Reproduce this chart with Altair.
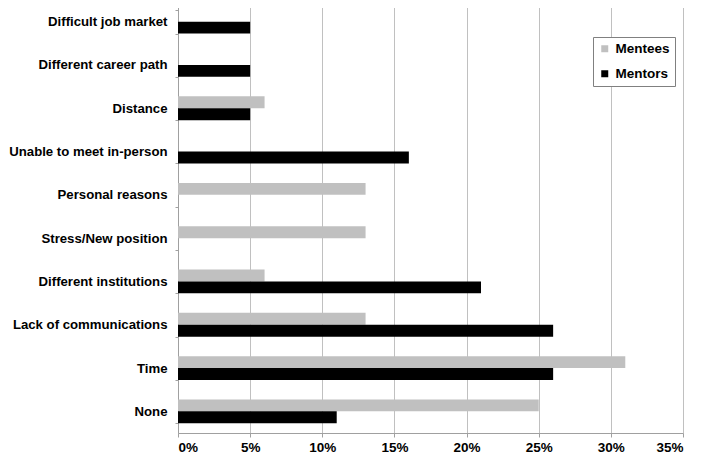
import altair as alt
import pandas as pd

categories = ["Difficult job market", "Different career path", "Distance",
              "Unable to meet in-person", "Personal reasons", "Stress/New position",
              "Different institutions", "Lack of communications", "Time", "None"]
mentees = [0, 0, 6, 0, 13, 13, 6, 13, 31, 25]
mentors = [5, 5, 5, 16, 0, 0, 21, 26, 26, 11]
series = ["Mentees", "Mentors"]
series_colors = ["#c0c0c0", "#000000"]
x_ticks = [0, 5, 10, 15, 20, 25, 30, 35]

rows = []
for c, a, b in zip(categories, mentees, mentors):
    rows.append({"category": c, "group": "Mentees", "value": a / 100})
    rows.append({"category": c, "group": "Mentors", "value": b / 100})
df = pd.DataFrame(rows)

font = "Liberation Sans"

chart = alt.Chart(df).mark_bar().encode(
    y=alt.Y("category:N", sort=categories, title=None,
            scale=alt.Scale(domain=categories, paddingInner=0.45, paddingOuter=0.225),
            axis=alt.Axis(tickBand="extent", tickSize=3, tickColor="#a0a0a0",
                          domainColor="#a0a0a0", labelFont=font, labelFontSize=13.2,
                          labelFontWeight="bold", labelColor="#000000", labelPadding=8,
                          grid=False)),
    yOffset=alt.YOffset("group:N", sort=series,
                        scale=alt.Scale(domain=series, paddingInner=0, paddingOuter=0)),
    x=alt.X("value:Q", title=None,
            scale=alt.Scale(domain=[0, 0.35], nice=False),
            axis=alt.Axis(values=[t / 100 for t in x_ticks], format=".0%", grid=True,
                          gridColor="#c0c0c0", tickColor="#a0a0a0", domainColor="#a0a0a0",
                          tickSize=4, labelFont=font, labelFontSize=13.5,
                          labelFontWeight="bold", labelColor="#000000", labelPadding=3)),
    color=alt.Color("group:N", sort=series, title=None,
                    scale=alt.Scale(domain=series, range=series_colors),
                    legend=alt.Legend(orient="none", legendX=415, legendY=37,
                                      symbolType="square", symbolSize=49,
                                      symbolStrokeWidth=0, labelFont=font,
                                      labelFontSize=13.5, labelFontWeight="bold",
                                      labelColor="#000000", labelOffset=4,
                                      rowPadding=10, padding=5,
                                      strokeColor="#808080", fillColor="#ffffff")),
).properties(
    width=505, height=433,
    autosize=alt.AutoSizeParams(type="none"),
    padding={"left": 170, "top": -8, "right": 14, "bottom": 21},
).configure_view(strokeWidth=0)

chart.save("out.html", embed_options={"renderer": "svg", "actions": False})
